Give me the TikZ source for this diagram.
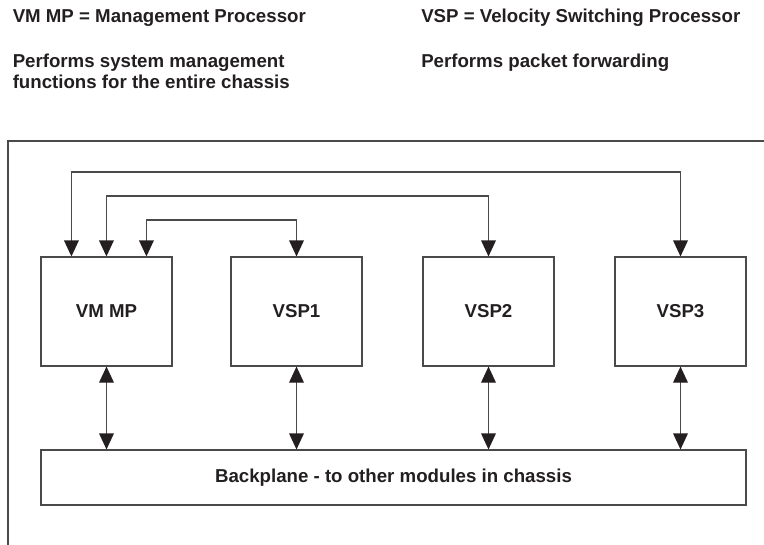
\documentclass[tikz,border=0pt]{standalone}
\usepackage{fontspec}
\setmainfont{Liberation Sans}
\usetikzlibrary{arrows.meta,calc}
\definecolor{ink}{HTML}{231F20}
\definecolor{rule}{HTML}{4A4A4A}
\begin{document}
\begin{tikzpicture}[x=0.75pt,y=-0.75pt,
  font=\bfseries\fontsize{14pt}{15.5pt}\selectfont,
  text=ink,
  line/.style={draw=rule,line width=0.85pt},
  dbl/.style={line,{Triangle[length=12pt,width=11pt,color=ink,fill=ink]}-{Triangle[length=12pt,width=11pt,color=ink,fill=ink]}},
  unit/.style={line,rectangle,minimum width=98.25pt,minimum height=81.75pt,inner sep=0pt},
  note/.style={anchor=base west,align=left,inner sep=0pt}]
\useasboundingbox (0,0) rectangle (764,544);
\clip (0,0) rectangle (764,544);

% explanatory notes
\node[note] (n1) at (12.5,22.7) {VM MP = Management Processor};
\node[note] (n2) at (12.5,88) {Performs system management\\functions for the entire chassis};
\node[note] (n3) at (421,22.7) {VSP = Velocity Switching Processor};
\node[note] (n4) at (421,67.5) {Performs packet forwarding};

% chassis outline (open towards the right and bottom)
\draw[line] (8,560) -- (8,141) -- (780,141);

% processor modules
\node[unit] (vmmp) at (106.5,311.5) {VM MP};
\node[unit] (vsp1) at (296.5,311.5) {VSP1};
\node[unit] (vsp2) at (488.5,311.5) {VSP2};
\node[unit] (vsp3) at (680.5,311.5) {VSP3};

% backplane
\node[line,rectangle,minimum width=528.75pt,minimum height=41.25pt,inner sep=0pt] (bp) at (393.5,477.5)
  {Backplane - to other modules in chassis};

% management links from VM MP to each VSP
\draw[dbl] ($(vmmp.north west)+(31,0)$) -- ++(0,-84.5) -| (vsp3.north);
\draw[dbl] ($(vmmp.north west)+(66,0)$) -- ++(0,-60.5) -| (vsp2.north);
\draw[dbl] ($(vmmp.north west)+(106,0)$) -- ++(0,-36.5) -| (vsp1.north);

% backplane links
\draw[dbl] (vmmp.south) -- (vmmp.south |- bp.north);
\draw[dbl] (vsp1.south) -- (vsp1.south |- bp.north);
\draw[dbl] (vsp2.south) -- (vsp2.south |- bp.north);
\draw[dbl] (vsp3.south) -- (vsp3.south |- bp.north);
\end{tikzpicture}
\end{document}
